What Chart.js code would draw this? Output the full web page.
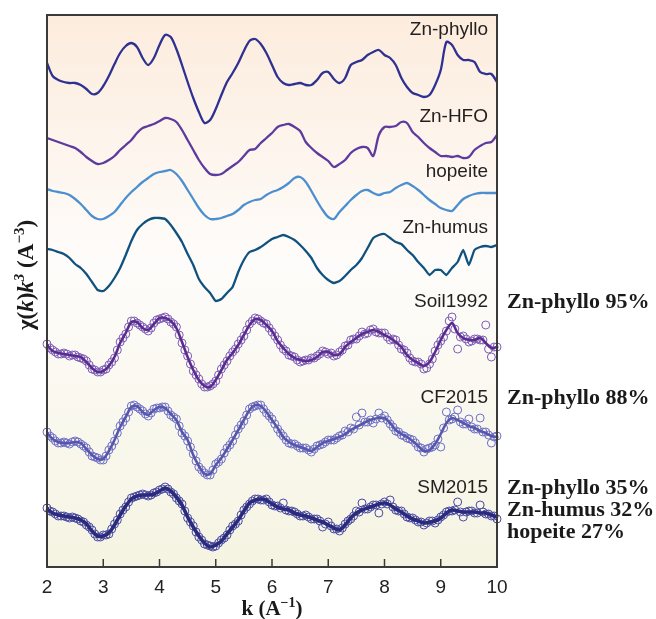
<!DOCTYPE html>
<html>
<head>
<meta charset="utf-8">
<script src="https://cdn.jsdelivr.net/npm/chart.js@4.4.1/dist/chart.umd.min.js"></script>
<style>
  html, body { margin: 0; padding: 0; background: #ffffff; }
  #chi { display: block; }
</style>
</head>
<body>
<canvas id="chi" width="656" height="619"></canvas>
<script>
// k grid (A^-1)
const K = [2.0,2.1,2.2,2.3,2.4,2.5,2.6,2.7,2.8,2.9,3.0,3.1,3.2,3.3,3.4,3.5,3.6,3.7,3.8,3.9,
  4.0,4.1,4.2,4.3,4.4,4.5,4.6,4.7,4.8,4.9,5.0,5.1,5.2,5.3,5.4,5.5,5.6,5.7,5.8,5.9,
  6.0,6.1,6.2,6.3,6.4,6.5,6.6,6.7,6.8,6.9,7.0,7.1,7.2,7.3,7.4,7.5,7.6,7.7,7.8,7.9,
  8.0,8.1,8.2,8.3,8.4,8.5,8.6,8.7,8.8,8.9,9.0,9.1,9.2,9.3,9.4,9.5,9.6,9.7,9.8,9.9,10.0];
// in-between k values of the measured spectra
const KM = [2.05,2.15,2.25,2.35,2.45,2.55,2.65,2.75,2.85,2.95,3.05,3.15,3.25,3.35,3.45,3.55,3.65,3.75,3.85,3.95,
  4.05,4.15,4.25,4.35,4.45,4.55,4.65,4.75,4.85,4.95,5.05,5.15,5.25,5.35,5.45,5.55,5.65,5.75,5.85,5.95,
  6.05,6.15,6.25,6.35,6.45,6.55,6.65,6.75,6.85,6.95,7.05,7.15,7.25,7.35,7.45,7.55,7.65,7.75,7.85,7.95,
  8.05,8.15,8.25,8.35,8.45,8.55,8.65,8.75,8.85,8.95,9.05,9.15,9.25,9.35,9.45,9.55,9.65,9.75,9.85,9.95];

const X_TICKS = [2,3,4,5,6,7,8,9,10];

// vertical offsets used to stack the spectra
const OFFSETS = [48.7, 42.2, 37.2, 30.9, 22.2, 13.5, 5.2];

// reference spectra, chi(k)k^3
const znPhyllo = [1.7,0.4,0,-0.2,-0.3,-0.3,-0.5,-0.9,-1.4,-1.3,-0.6,0.4,1.6,2.7,3.4,3.7,3.3,2.2,1.5,2.2,
  3.5,4.5,4.3,3.1,1.5,-0.2,-1.8,-3.2,-4.3,-4.0,-2.9,-1.5,-0.2,0.7,1.7,2.9,3.9,4.1,3.6,2.7,
  1.5,0.3,-0.3,-0.5,-0.4,-0.3,-0.5,-0.5,0,0.7,0.8,0.1,-0.3,0.2,1.5,1.8,2.0,2.5,2.8,3.0,
  2.5,2.2,1.5,0.2,-0.7,-1.3,-1.5,-1.7,-1.5,-0.5,1.0,3.8,3.5,2.5,2.0,2.0,1.8,0.8,0.6,0.6,-0.2];
const znHFO = [0.7,0.5,0.3,0.1,-0.1,-0.3,-0.7,-1.2,-1.6,-1.9,-1.8,-1.5,-1.1,-0.5,0,0.5,1.2,1.7,1.9,2.1,
  2.4,2.7,2.6,2.3,1.5,0.5,-0.5,-1.5,-2.3,-2.9,-3.0,-2.9,-2.5,-2.1,-1.7,-1.1,-0.5,-0.4,0.2,0.7,
  1.2,1.8,2.0,2.1,1.8,1.4,0.3,-0.3,-0.8,-1.2,-1.6,-2.2,-1.9,-1.5,-0.8,-0.4,-0.2,-0.3,-1.1,1.0,
  1.8,1.8,1.9,2.3,2.2,1.3,0.8,0.2,-0.3,-0.7,-1.1,-1.1,-1.2,-1.1,-1.3,-1.2,-0.5,-0.1,0.2,0.3,1.0];
const hopeite = [0.6,0.4,0.3,0.2,0,-0.4,-0.9,-1.5,-2.1,-2.4,-2.4,-2.1,-1.7,-1.0,-0.3,0.3,0.8,1.3,1.7,2.1,
  2.3,2.4,2.5,2.1,1.4,0.5,-0.4,-1.3,-2.0,-2.4,-2.4,-2.3,-2.1,-1.9,-1.5,-1.0,-0.7,-0.5,-0.4,0,
  0.3,0.5,0.8,1.2,1.7,1.8,1.3,0.4,-0.6,-1.5,-2.2,-2.4,-1.7,-1.1,-0.5,0,0.4,0.5,0.2,0,
  0.2,0.3,0.7,1.0,1.2,0.9,0.5,0,-0.5,-0.9,-1.3,-1.5,-1.6,-1.0,-0.4,-0.1,0.1,0.2,0.2,0.2,0.2];
const znHumus = [0.9,0.8,0.6,0.4,0,-0.6,-1.0,-1.6,-2.4,-3.2,-3.3,-2.8,-2.0,-1.0,0.3,1.7,2.8,3.4,3.8,4.0,
  4.0,3.9,3.3,2.5,1.6,0.4,-0.7,-2.1,-2.9,-3.5,-4.3,-4.1,-3.5,-2.9,-1.4,-0.2,0.6,0.8,1.1,1.5,
  1.9,2.1,2.3,2.1,1.8,1.3,0.7,0,-1.0,-1.7,-2.2,-2.5,-2.3,-1.8,-1.2,-0.7,0,1.0,2.0,2.3,
  2.4,2.0,1.6,1.4,0.8,0.3,-0.4,-1.0,-1.7,-1.2,-1.2,-1.7,-1.0,-0.4,0.8,-0.7,0.8,1.1,1.2,1.1,1.3];

// soil samples: linear-combination fits (on K) and measured data (on K and KM)
const soil1992Fit = [0,-0.6,-0.8,-0.9,-1.0,-1.1,-1.2,-1.7,-2.3,-2.7,-2.6,-2.1,-1.2,0.2,1.2,2.3,2.3,1.7,1.5,2.1,
  2.7,2.7,2.4,1.7,0.3,-1.2,-2.5,-3.5,-4.1,-4.2,-3.5,-2.5,-1.5,-0.8,0,1.0,2.0,2.6,2.5,2.0,
  1.4,0.4,-0.3,-0.9,-1.3,-1.5,-1.6,-1.5,-1.2,-0.7,-0.7,-1.0,-0.9,-0.2,0.3,0.7,1.1,1.3,1.5,1.3,
  1.0,0.7,0.3,-0.2,-1.0,-1.5,-1.8,-2.1,-1.7,-0.7,0.5,1.5,2.2,1.2,0.7,0.5,0.5,0.7,0.2,-0.3,-0.2];
const soil1992Data = [0.1,-0.5,-0.9,-0.8,-1.1,-1.0,-1.3,-1.6,-2.4,-2.7,-2.5,-2.0,-1.3,0.3,1.1,2.4,2.2,1.8,1.4,2.2,
  2.6,2.8,2.3,1.8,0.2,-1.1,-2.6,-3.4,-4.2,-4.1,-3.6,-2.4,-1.6,-0.7,0.1,0.9,2.1,2.7,2.4,2.1,
  1.3,0.5,-0.4,-1.0,-1.2,-1.7,-1.5,-1.3,-1.1,-0.6,-0.9,-1.1,-0.7,-0.1,0.5,0.6,1.3,1.2,1.6,1.2,
  1.2,0.5,0.5,-0.4,-0.8,-1.6,-1.7,-2.4,-1.9,-0.6,0.4,1.4,2.8,-0.4,0.9,0.3,0.6,0.5,2.0,-1.2,-0.2];
const soil1992DataMid = [-0.3,-0.7,-0.9,-0.9,-1.0,-1.2,-1.4,-2.0,-2.5,-2.7,-2.4,-1.7,-0.5,0.7,1.8,2.4,2.0,1.6,1.7,2.5,
  2.7,2.6,2.1,1.0,-0.5,-1.9,-3.0,-3.9,-4.2,-3.9,-3.0,-2.0,-1.1,-0.4,0.5,1.5,2.4,2.6,2.2,1.7,
  0.9,0.0,-0.6,-1.1,-1.5,-1.6,-1.5,-1.3,-0.9,-0.7,-0.8,-1.0,-0.5,0.0,0.6,0.9,1.1,1.5,1.3,1.2,
  0.8,0.6,0.0,-0.5,-1.3,-1.7,-1.9,-2.3,-1.4,0.0,0.8,2.4,1.6,0.8,0.6,0.4,0.6,0.5,-0.4,-0.2];
const cf2015Fit = [-0.1,-0.7,-1.0,-1.1,-1.1,-1.0,-1.1,-1.7,-2.3,-2.7,-2.7,-1.9,-0.8,0.5,1.5,2.5,2.6,2.0,1.7,2.2,
  2.5,2.4,1.8,1.2,0,-0.8,-2.3,-3.4,-4.2,-4.2,-3.3,-2.6,-1.7,-0.8,0.2,1.2,2.2,2.7,2.6,2.0,
  1.2,0.4,-0.5,-1.0,-1.3,-1.5,-1.7,-1.9,-1.5,-1.1,-0.9,-0.7,-0.5,-0.2,0.2,0.5,0.8,1.1,1.3,1.4,
  1.4,0.9,0.2,-0.2,-0.5,-0.9,-1.4,-1.9,-1.8,-1.2,-0.2,0.9,1.4,1.2,0.9,0.6,0.4,0.1,-0.1,-0.4,-0.5];
const cf2015Data = [0,-0.6,-1.1,-1.0,-1.2,-0.9,-1.2,-1.6,-2.4,-2.6,-2.8,-1.8,-0.9,0.6,1.4,2.6,2.5,2.1,1.6,2.3,
  2.4,2.5,1.7,1.3,-0.1,-0.9,-2.2,-3.5,-4.1,-4.3,-3.2,-2.7,-1.6,-0.9,0.3,1.1,2.3,2.6,2.7,1.9,
  1.3,0.3,-0.4,-1.1,-1.2,-1.6,-1.6,-2.0,-1.4,-1.2,-0.8,-0.8,-0.4,0.1,0.4,1.5,1.9,1.0,0.9,1.9,
  1.6,0.8,0.1,-0.3,-0.6,-0.8,-1.5,-2.0,-1.6,-1.3,-1.5,2.0,1.3,2.2,0.8,1.3,0.3,1.4,0,-1.1,-0.4];
const cf2015DataMid = [-0.4,-0.9,-1.1,-1.1,-1.0,-1.0,-1.4,-2.0,-2.5,-2.8,-2.4,-1.4,-0.1,1.0,2.0,2.7,2.3,1.8,1.9,2.4,
  2.5,2.1,1.5,0.6,-0.4,-1.5,-2.9,-3.8,-4.3,-3.8,-3.0,-2.1,-1.3,-0.3,0.7,1.7,2.5,2.7,2.3,1.6,
  0.8,-0.1,-0.8,-1.2,-1.4,-1.6,-1.8,-1.7,-1.3,-1.0,-0.8,-0.6,-0.3,0.0,0.3,0.7,1.0,1.2,1.3,1.4,
  1.2,0.5,0.0,-0.4,-0.7,-1.1,-1.6,-1.7,-1.5,-0.7,0.4,1.2,1.5,1.0,0.8,0.5,0.3,0.0,-0.3,-0.5];
const sm2015Fit = [0.6,0.2,0,-0.1,-0.2,-0.3,-0.5,-0.9,-1.6,-2.1,-2.1,-1.8,-1.0,0,0.9,1.6,1.9,2.0,2.0,2.1,
  2.4,2.7,2.4,1.8,1.0,-0.2,-1.2,-2.1,-2.8,-3.2,-3.0,-2.6,-1.9,-1.2,-0.5,0.4,1.2,1.5,1.6,1.5,
  1.1,0.8,0.6,0.5,0.2,0,-0.1,-0.3,-0.5,-0.7,-1.0,-1.3,-1.5,-1.0,-0.3,0.2,0.5,0.7,0.9,1.1,
  1.2,1.0,0.6,0.3,-0.1,-0.4,-0.6,-0.8,-0.7,-0.6,-0.3,0.2,0.5,0.4,0.3,0.3,0.3,0.2,0.2,0,-0.2];
const sm2015Data = [0.7,0.3,-0.1,-0.1,-0.3,-0.3,-0.6,-1.0,-1.5,-2.2,-2.0,-1.9,-0.9,0.1,0.8,1.7,1.9,2.1,1.9,2.2,
  2.5,2.8,2.3,1.7,1.1,-0.3,-1.1,-2.2,-2.9,-3.1,-3.1,-2.5,-2.0,-1.1,-0.6,0.5,1.1,1.6,1.5,1.6,
  1.0,0.9,1.2,0.4,0.3,-0.1,0,-0.4,-0.4,-1.2,-0.7,-1.4,-1.6,-0.9,-0.4,0.4,1.2,0.6,1.0,0.2,
  1.3,1.5,0.5,0.4,-0.2,-0.3,-0.7,-1.0,-0.6,-0.8,-0.2,0.3,0.4,1.3,-0.2,0.4,0.2,1.0,0.1,-0.1,-0.4];
const sm2015DataMid = [0.4,0.1,-0.1,-0.2,-0.2,-0.4,-0.7,-1.2,-1.9,-2.2,-2.0,-1.4,-0.5,0.5,1.3,1.8,2.0,2.0,2.0,2.3,
  2.6,2.6,2.1,1.4,0.4,-0.7,-1.7,-2.5,-3.0,-3.2,-2.8,-2.3,-1.5,-0.9,0.0,0.8,1.4,1.6,1.5,1.3,
  0.9,0.7,0.5,0.4,0.1,-0.1,-0.2,-0.4,-0.6,-0.9,-1.1,-1.4,-1.3,-0.6,-0.1,0.3,0.6,0.8,1.0,1.1,
  1.1,0.8,0.4,0.1,-0.3,-0.5,-0.7,-0.8,-0.6,-0.5,0.0,0.4,0.5,0.3,0.3,0.4,0.2,0.3,0.1,-0.1];

const NAMES = ['Zn-phyllo', 'Zn-HFO', 'hopeite', 'Zn-humus', 'Soil1992', 'CF2015', 'SM2015'];
const FIT_RESULTS = [[], [], [], [], ['Zn-phyllo 95%'], ['Zn-phyllo 88%'],
  ['Zn-phyllo 35%', 'Zn-humus 32%', 'hopeite 27%']];

const lineColors = ['#2e3192', '#5e3a9e', '#4b8fd1', '#0f527f', '#5b2c8f', '#5656ad', '#2a2b7d'];
const dotColors = ['#7d5db8', '#6f6fc6', '#4a4aa3'];

function pts(ks, vals, off) {
  return ks.map((k, i) => ({ x: k, y: vals[i] + off }));
}

const refSets = [znPhyllo, znHFO, hopeite, znHumus];
const fitSets = [soil1992Fit, cf2015Fit, sm2015Fit];
const dataSets = [soil1992Data, cf2015Data, sm2015Data];
const dataMidSets = [soil1992DataMid, cf2015DataMid, sm2015DataMid];

const datasets = [];
refSets.forEach((v, i) => {
  datasets.push({ label: NAMES[i], data: pts(K, v, OFFSETS[i]), borderColor: lineColors[i],
    borderWidth: 2.3, pointRadius: 0, tension: i === 3 ? 0.15 : 0.3, fill: false, order: 0 });
});
fitSets.forEach((v, j) => {
  const i = j + 4;
  const measured = pts(K, dataSets[j], OFFSETS[i]).concat(pts(KM, dataMidSets[j], OFFSETS[i]))
    .sort((a, b) => a.x - b.x);
  datasets.push({ label: NAMES[i] + ' fit', data: pts(K, v, OFFSETS[i]), borderColor: lineColors[i],
    borderWidth: i === 6 ? 3.6 : 2.6, pointRadius: 0, tension: 0.3, fill: false, order: 0 });
  datasets.push({ label: NAMES[i], data: measured, showLine: false,
    pointRadius: 4, pointBorderWidth: 1, pointBorderColor: dotColors[j],
    pointBackgroundColor: 'rgba(0,0,0,0)', clip: 8, order: 1 });
});

// name label rise above each offset (px)
const NAME_RISE = [45, 23, 18, 25, 38, 29, 22];

function drawRich(ctx, parts, x, y) {
  let w = 0;
  parts.forEach(p => { ctx.font = p.f; w += ctx.measureText(p.t).width; });
  let cx = x - w / 2;
  parts.forEach(p => {
    ctx.font = p.f;
    ctx.fillText(p.t, cx, y - (p.up || 0));
    cx += ctx.measureText(p.t).width;
  });
}

const decor = {
  id: 'decor',
  beforeDatasetsDraw(chart) {
    const { ctx, chartArea: a } = chart;
    const g = ctx.createLinearGradient(0, a.top, 0, a.bottom);
    g.addColorStop(0, '#fcecdd');
    g.addColorStop(0.45, '#fefcfa');
    g.addColorStop(1, '#f5f4e2');
    ctx.save();
    ctx.fillStyle = g;
    ctx.fillRect(a.left, a.top, a.right - a.left, a.bottom - a.top);
    ctx.restore();
  },
  afterDraw(chart) {
    const { ctx, chartArea: a, scales } = chart;
    const xs = scales.x, ys = scales.y;
    ctx.save();
    // frame
    ctx.strokeStyle = '#3a3a3a';
    ctx.lineWidth = 2;
    ctx.strokeRect(a.left, a.top, a.right - a.left, a.bottom - a.top);
    // inward ticks
    ctx.lineWidth = 1.5;
    X_TICKS.forEach(t => {
      const px = xs.getPixelForValue(t);
      ctx.beginPath();
      ctx.moveTo(px, a.bottom);
      ctx.lineTo(px, a.bottom - 8);
      ctx.stroke();
    });
    // spectrum names
    ctx.fillStyle = '#231f20';
    ctx.font = '19px "Liberation Sans", Arial, sans-serif';
    ctx.textAlign = 'right';
    ctx.textBaseline = 'alphabetic';
    NAMES.forEach((n, i) => {
      ctx.fillText(n, 488, ys.getPixelForValue(OFFSETS[i]) - NAME_RISE[i]);
    });
    // fit results
    ctx.textAlign = 'left';
    ctx.fillStyle = '#1a1a1a';
    ctx.font = 'bold 22px "Liberation Serif", "Times New Roman", serif';
    FIT_RESULTS.forEach((lines, i) => {
      const base = ys.getPixelForValue(OFFSETS[i]) - NAME_RISE[i] + 1;
      lines.forEach((s, j) => ctx.fillText(s, 507, base + j * 22));
    });
    // axis titles
    ctx.fillStyle = '#1a1a1a';
    const B = 'bold 21px "Liberation Serif", "Times New Roman", serif';
    const S = 'bold 14px "Liberation Serif", "Times New Roman", serif';
    drawRich(ctx, [{ t: 'k (A', f: B }, { t: '\u22121', f: S, up: 8 }, { t: ')', f: B }],
      (a.left + a.right) / 2, 615);
    const YB = 'bold 23px "Liberation Serif", "Times New Roman", serif';
    const YBI = 'italic bold 23px "Liberation Serif", "Times New Roman", serif';
    const YS = 'bold 15px "Liberation Serif", "Times New Roman", serif';
    const YSI = 'italic bold 15px "Liberation Serif", "Times New Roman", serif';
    ctx.translate(33, 275);
    ctx.rotate(-Math.PI / 2);
    drawRich(ctx, [{ t: '\u03c7(', f: YB }, { t: 'k', f: YBI }, { t: ')', f: YB }, { t: 'k', f: YBI },
      { t: '3', f: YSI, up: 9 }, { t: ' (A', f: YB }, { t: '\u22123', f: YS, up: 9 }, { t: ')', f: YB }], 0, 0);
    ctx.restore();
  }
};

new Chart(document.getElementById('chi'), {
  type: 'line',
  data: { datasets },
  plugins: [decor],
  options: {
    responsive: false,
    animation: false,
    layout: { padding: { left: 47, right: 159, top: 15, bottom: 0 } },
    plugins: { legend: { display: false }, tooltip: { enabled: false } },
    scales: {
      x: {
        type: 'linear', min: 2, max: 10,
        afterFit: s => { s.height = 52; },
        grid: { display: false, drawTicks: false },
        border: { display: false },
        afterBuildTicks: s => { s.ticks = X_TICKS.map(v => ({ value: v })); },
        ticks: { padding: 9, color: '#222', font: { family: '"Liberation Sans", Arial, sans-serif', size: 19 } }
      },
      y: { display: false, min: 0, max: 55.2 }
    }
  }
});
</script>
</body>
</html>
